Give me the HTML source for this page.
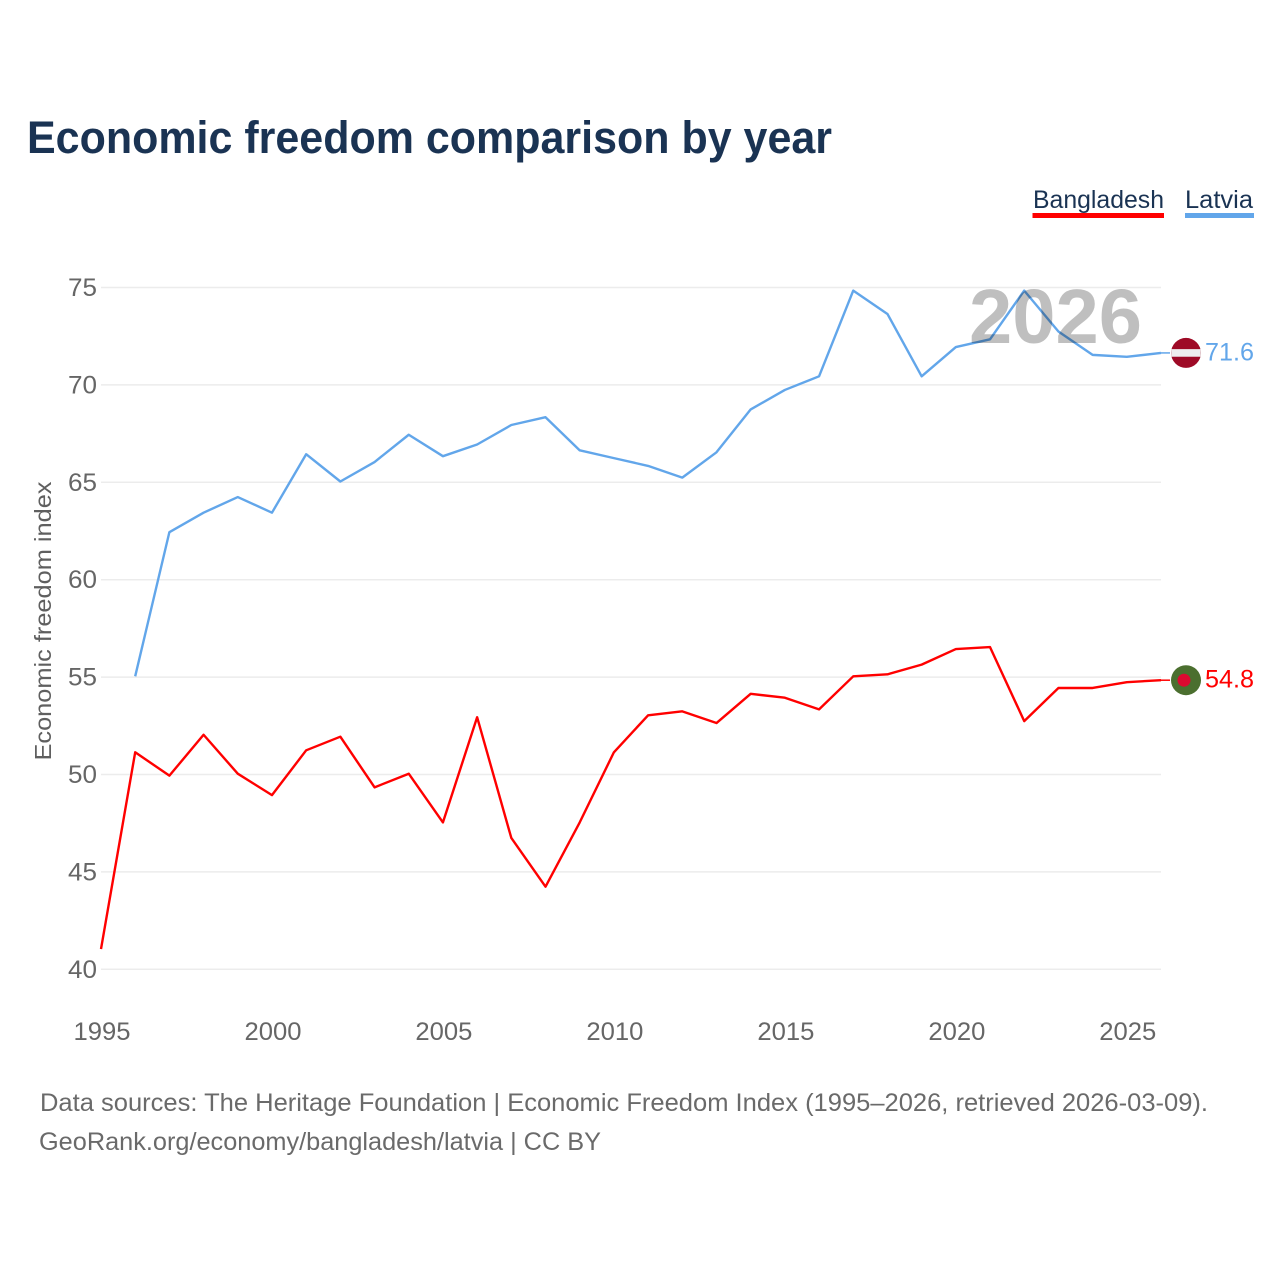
<!DOCTYPE html>
<html lang="en">
<head>
<meta charset="utf-8">
<title>Economic freedom comparison by year</title>
<style>
html,body{margin:0;padding:0;background:#fff;}
svg{display:block;font-family:"Liberation Sans",sans-serif;}
</style>
</head>
<body>
<svg id="chart" xmlns="http://www.w3.org/2000/svg" width="1280" height="1280" viewBox="0 0 1280 1280">
  <rect x="0" y="0" width="1280" height="1280" fill="#ffffff"/>
  <text x="27" y="153" font-size="45" font-weight="700" fill="#1a3353" textLength="805" lengthAdjust="spacingAndGlyphs">Economic freedom comparison by year</text>

  <g>
    <text x="1033" y="208" font-size="25" fill="#1a3353" textLength="131" lengthAdjust="spacingAndGlyphs">Bangladesh</text>
    <rect x="1032.5" y="213" width="131.5" height="5" fill="#ff0000"/>
  </g>
  <g>
    <text x="1185" y="208" font-size="25" fill="#1a3353" textLength="68" lengthAdjust="spacingAndGlyphs">Latvia</text>
    <rect x="1185" y="213" width="69" height="5" fill="#62a6ea"/>
  </g>

  <g id="grid"></g>
  <g id="yticks"></g>
  <g id="xticks"></g>
  <text transform="translate(51,621) rotate(-90)" text-anchor="middle" font-size="23.5" fill="#5f5f5f" textLength="279" lengthAdjust="spacingAndGlyphs">Economic freedom index</text>

  <g id="series"></g>
  <text id="year-watermark" x="969" y="343" font-size="77" font-weight="700" fill="#000000" fill-opacity="0.25" textLength="173" lengthAdjust="spacingAndGlyphs">2026</text>
  <g id="endmarks"></g>

  <text x="40" y="1111" font-size="25" fill="#6a6a6a" textLength="1168" lengthAdjust="spacingAndGlyphs">Data sources: The Heritage Foundation | Economic Freedom Index (1995–2026, retrieved 2026-03-09).</text>
  <text x="39" y="1150" font-size="25" fill="#6a6a6a" textLength="562" lengthAdjust="spacingAndGlyphs">GeoRank.org/economy/bangladesh/latvia | CC BY</text>
</svg>
<script>
const bangladeshYears = [1995,1996,1997,1998,1999,2000,2001,2002,2003,2004,2005,2006,2007,2008,2009,2010,2011,2012,2013,2014,2015,2016,2017,2018,2019,2020,2021,2022,2023,2024,2025,2026];
const bangladeshValues = [41.0,51.1,49.9,52.0,50.0,48.9,51.2,51.9,49.3,50.0,47.5,52.9,46.7,44.2,47.5,51.1,53.0,53.2,52.6,54.1,53.9,53.3,55.0,55.1,55.6,56.4,56.5,52.7,54.4,54.4,54.7,54.8];
const latviaYears = [1996,1997,1998,1999,2000,2001,2002,2003,2004,2005,2006,2007,2008,2009,2010,2011,2012,2013,2014,2015,2016,2017,2018,2019,2020,2021,2022,2023,2024,2025,2026];
const latviaValues = [55.0,62.4,63.4,64.2,63.4,66.4,65.0,66.0,67.4,66.3,66.9,67.9,68.3,66.6,66.2,65.8,65.2,66.5,68.7,69.7,70.4,74.8,73.6,70.4,71.9,72.3,74.8,72.7,71.5,71.4,71.6];
const yTicks = [40,45,50,55,60,65,70,75];
const xTicks = [1995,2000,2005,2010,2015,2020,2025];

const NS = 'http://www.w3.org/2000/svg';
const plotLeft = 101, plotRight = 1161, plotBottom = 969.3, plotTop = 287.5;
const markShift = -0.8;
function xScale(year){ return plotLeft + (year - 1995) * (plotRight - plotLeft) / 31; }
function yScale(v){ return plotBottom - (v - 40) * (plotBottom - plotTop) / 35; }
function yMark(v){ return yScale(v) + markShift; }
function make(tag, attrs, parent){
  const el = document.createElementNS(NS, tag);
  for (const k in attrs) el.setAttribute(k, attrs[k]);
  parent.appendChild(el);
  return el;
}
const grid = document.getElementById('grid');
const yticksG = document.getElementById('yticks');
const xticksG = document.getElementById('xticks');
const seriesG = document.getElementById('series');
const endG = document.getElementById('endmarks');

yTicks.forEach(function(t){
  const line = make('line', {x1:plotLeft, x2:plotRight, y1:yScale(t), y2:yScale(t), stroke:'#ececec', 'stroke-width':1.5}, grid);
  
  
  const label = make('text', {x:97, y:yScale(t)+8.5, 'text-anchor':'end', 'font-size':25, fill:'#666666', textLength:29, lengthAdjust:'spacingAndGlyphs'}, yticksG);
  
  
  label.textContent = String(t);
});
xTicks.forEach(function(t){
  const label = make('text', {x:xScale(t)+1, y:1040, 'text-anchor':'middle', 'font-size':25, fill:'#666666', textLength:57, lengthAdjust:'spacingAndGlyphs'}, xticksG);
  
  
  label.textContent = String(t);
});
function pathFor(years, values){
  return years.map(function(y, i){ return xScale(y).toFixed(2) + ',' + yMark(values[i]).toFixed(2); }).join(' ');
}
const bdLine = make('polyline', {points:pathFor(bangladeshYears, bangladeshValues), fill:'none', stroke:'#ff0000', 'stroke-width':2.4, 'stroke-linejoin':'round'}, seriesG);


const lvLine = make('polyline', {points:pathFor(latviaYears, latviaValues), fill:'none', stroke:'#62a6ea', 'stroke-width':2.4, 'stroke-linejoin':'round'}, seriesG);



const bdLast = bangladeshValues[bangladeshValues.length - 1];
const lvLast = latviaValues[latviaValues.length - 1];
const bdY = yMark(bdLast), lvY = yMark(lvLast);

const bdConn = make('line', {x1:plotRight, x2:1170, y1:bdY, y2:bdY, stroke:'#ff0000', 'stroke-width':1.5}, endG);


const lvConn = make('line', {x1:plotRight, x2:1170, y1:lvY, y2:lvY, stroke:'#62a6ea', 'stroke-width':1.5}, endG);



const bdFlag = make('circle', {cx:1186, cy:bdY, r:15, fill:'#4b6f2f'}, endG);


const bdDisc = make('circle', {cx:1184, cy:bdY, r:6.5, fill:'#dc0a30'}, endG);



const lvFlag = make('circle', {cx:1186, cy:lvY, r:15, fill:'#9e0a26'}, endG);


const lvBand = make('rect', {x:1171.2, y:lvY-3.8, width:29.6, height:7.6, fill:'#eeeeee'}, endG);



const bdVal = make('text', {x:1205, y:bdY+7.5, 'font-size':25, fill:'#ff0000', textLength:49, lengthAdjust:'spacingAndGlyphs'}, endG);


bdVal.textContent = bdLast.toFixed(1);
const lvVal = make('text', {x:1205, y:lvY+7.5, 'font-size':25, fill:'#62a6ea', textLength:49, lengthAdjust:'spacingAndGlyphs'}, endG);


lvVal.textContent = lvLast.toFixed(1);
</script>
</body>
</html>
